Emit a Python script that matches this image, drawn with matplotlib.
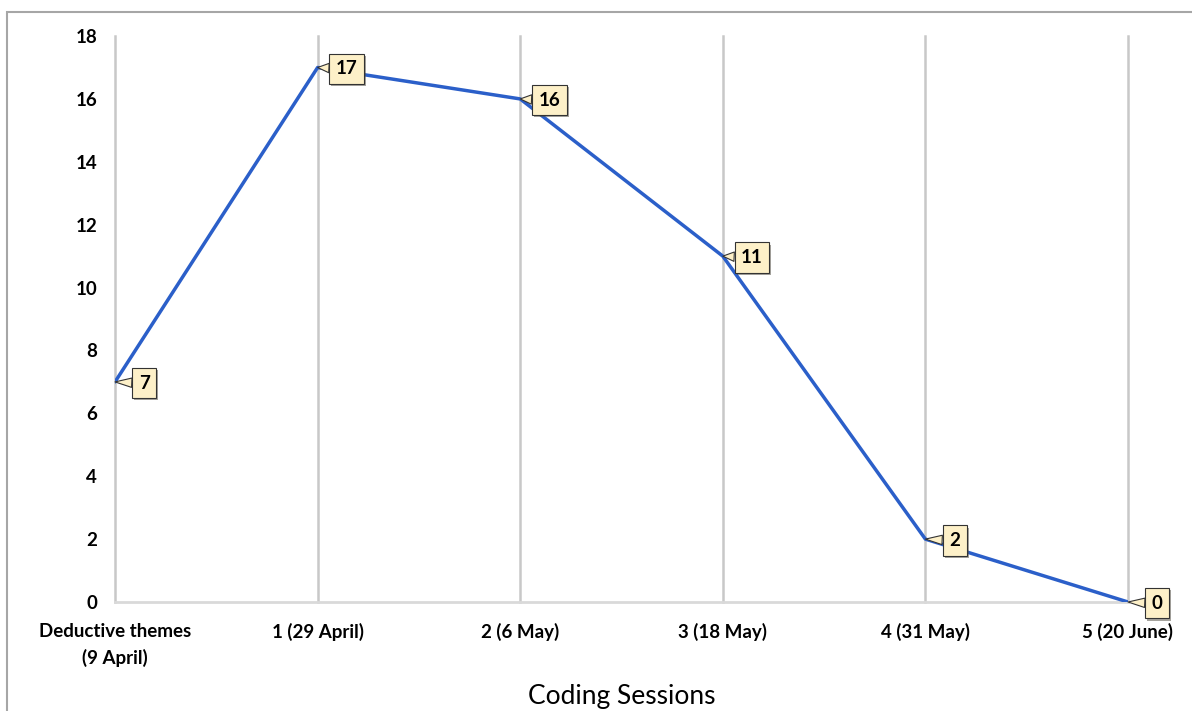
import matplotlib
matplotlib.use('Agg')
import matplotlib.pyplot as plt
import matplotlib.patheffects as pe
from matplotlib.patches import Rectangle

sessions = ['Deductive themes\n(9 April)', '1 (29 April)', '2 (6 May)',
            '3 (18 May)', '4 (31 May)', '5 (20 June)']
new_codes = [7, 17, 16, 11, 2, 0]
y_ticks = [0, 2, 4, 6, 8, 10, 12, 14, 16, 18]

plt.rcParams['font.family'] = ['Lato', 'DejaVu Sans']

fig = plt.figure(figsize=(11.92, 7.11), dpi=100)
ax = fig.add_axes([0.0965, 0.1533, 0.8498, 0.796])

# outer frame of the figure panel
fig.patches.append(Rectangle((7 / 1192, -0.05), 1.1, 0.05 + (711 - 12) / 711,
                             transform=fig.transFigure, fill=False,
                             ec='#a6a6a6', lw=1.5, zorder=0))

x = list(range(len(sessions)))
ax.plot(x, new_codes, color='#2b5fc9', lw=2.5, zorder=3, solid_capstyle='round')

for xi, yi in zip(x, new_codes):
    t = ax.annotate(str(yi), xy=(xi, yi), xytext=(21, -1), textcoords='offset points',
                    ha='center', va='center', fontsize=13.5, fontweight='bold',
                    bbox=dict(boxstyle='square,pad=0.35', fc='#fdf0c8', ec='#333333', lw=0.8),
                    arrowprops=dict(arrowstyle='wedge,tail_width=0.5', fc='#fdf0c8',
                                    ec='#333333', lw=0.8, shrinkA=0, shrinkB=0),
                    zorder=5)
    t.get_bbox_patch().set_path_effects([pe.SimplePatchShadow(offset=(1.5, -1.5), alpha=0.5),
                                         pe.Normal()])

ax.set_xlim(0, 5)
ax.set_ylim(0, 18)
ax.set_xticks(x)
ax.set_xticklabels(sessions, fontsize=13.5, fontweight='bold', linespacing=1.6)
ax.set_yticks(y_ticks)
ax.set_yticklabels([str(v) for v in y_ticks], fontsize=13.5, fontweight='bold')
ax.tick_params(axis='both', length=0)
ax.tick_params(axis='x', pad=15)
ax.tick_params(axis='y', pad=13)

ax.grid(axis='x', color='#c8c8c8', lw=1.8)
for gl in ax.get_xgridlines():
    gl.set_clip_on(False)
ax.set_axisbelow(True)
for s in ['top', 'right', 'left']:
    ax.spines[s].set_visible(False)
ax.spines['bottom'].set_color('#d9d9d9')
ax.spines['bottom'].set_linewidth(2)

ax.set_xlabel('Coding Sessions', fontsize=19, labelpad=12)

fig.savefig('out.png', dpi=100)
